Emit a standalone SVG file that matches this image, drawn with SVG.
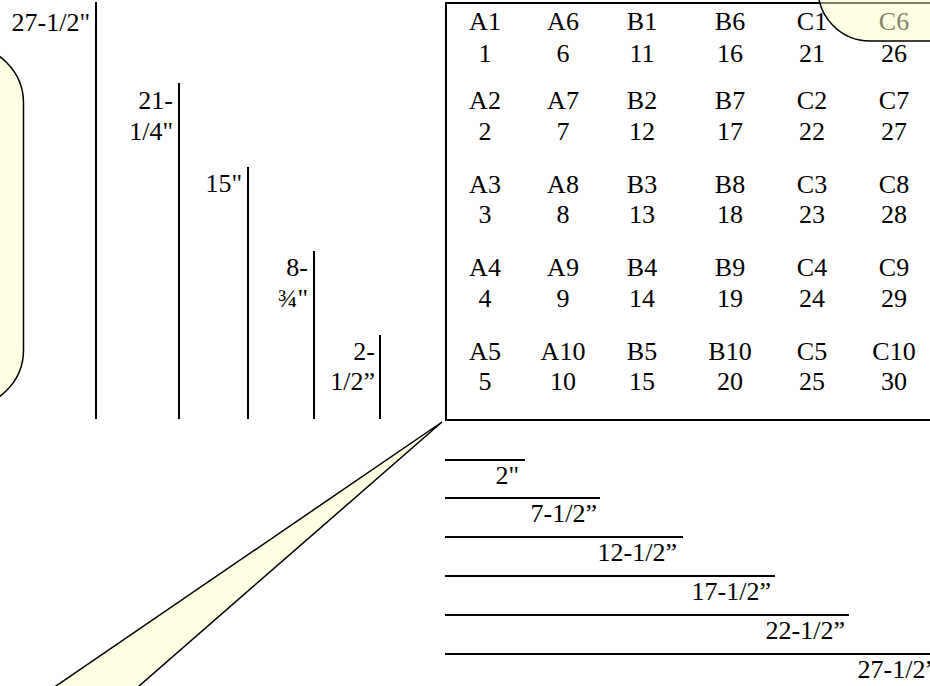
<svg xmlns="http://www.w3.org/2000/svg" width="930" height="686" viewBox="0 0 930 686">
<style>
text{font-family:"Liberation Serif","Times New Roman",serif;font-size:26px;fill:#000}
.g text{text-anchor:middle}
.e{text-anchor:end}
.v{stroke:#000;stroke-width:2;fill:none}
.shape{fill:#ffffe3;stroke:#000;stroke-width:1.5}
</style>
<rect width="930" height="686" fill="#fff"/>
<g id="left-panel"><rect class="shape" x="-120" y="46" width="143.5" height="361" rx="57" ry="57"/></g>
<g id="vertical-dims">
<line class="v" x1="96" y1="2" x2="96" y2="419"/>
<line class="v" x1="179" y1="83" x2="179" y2="419"/>
<line class="v" x1="248" y1="167" x2="248" y2="419"/>
<line class="v" x1="314" y1="251" x2="314" y2="419"/>
<line class="v" x1="380" y1="335" x2="380" y2="419"/>
<text class="e" x="90" y="31">27-1/2"</text>
<text class="e" x="173" y="109">21-</text>
<text class="e" x="173" y="140">1/4"</text>
<text class="e" x="242" y="192">15"</text>
<text class="e" x="308" y="276">8-</text>
<text class="e" x="308" y="307">¾"</text>
<text class="e" x="375" y="360">2-</text>
<text class="e" x="375" y="390">1/2”</text>
</g>
<g id="grid" class="g">
<rect x="446" y="3" width="500" height="417" fill="none" stroke="#000" stroke-width="2"/>
<text x="485" y="30">A1</text><text x="485" y="62">1</text>
<text x="485" y="109">A2</text><text x="485" y="140">2</text>
<text x="485" y="193">A3</text><text x="485" y="223">3</text>
<text x="485" y="276">A4</text><text x="485" y="307">4</text>
<text x="485" y="360">A5</text><text x="485" y="390">5</text>
<text x="563" y="30">A6</text><text x="563" y="62">6</text>
<text x="563" y="109">A7</text><text x="563" y="140">7</text>
<text x="563" y="193">A8</text><text x="563" y="223">8</text>
<text x="563" y="276">A9</text><text x="563" y="307">9</text>
<text x="563" y="360">A10</text><text x="563" y="390">10</text>
<text x="642" y="30">B1</text><text x="642" y="62">11</text>
<text x="642" y="109">B2</text><text x="642" y="140">12</text>
<text x="642" y="193">B3</text><text x="642" y="223">13</text>
<text x="642" y="276">B4</text><text x="642" y="307">14</text>
<text x="642" y="360">B5</text><text x="642" y="390">15</text>
<text x="730" y="30">B6</text><text x="730" y="62">16</text>
<text x="730" y="109">B7</text><text x="730" y="140">17</text>
<text x="730" y="193">B8</text><text x="730" y="223">18</text>
<text x="730" y="276">B9</text><text x="730" y="307">19</text>
<text x="730" y="360">B10</text><text x="730" y="390">20</text>
<text x="812" y="30">C1</text><text x="812" y="62">21</text>
<text x="812" y="109">C2</text><text x="812" y="140">22</text>
<text x="812" y="193">C3</text><text x="812" y="223">23</text>
<text x="812" y="276">C4</text><text x="812" y="307">24</text>
<text x="812" y="360">C5</text><text x="812" y="390">25</text>
<text x="894" y="30">C6</text><text x="894" y="62">26</text>
<text x="894" y="109">C7</text><text x="894" y="140">27</text>
<text x="894" y="193">C8</text><text x="894" y="223">28</text>
<text x="894" y="276">C9</text><text x="894" y="307">29</text>
<text x="894" y="360">C10</text><text x="894" y="390">30</text>
</g>
<g id="horizontal-dims">
<line class="v" x1="445" y1="460" x2="525" y2="460"/>
<line class="v" x1="445" y1="498" x2="600" y2="498"/>
<line class="v" x1="445" y1="537" x2="683" y2="537"/>
<line class="v" x1="445" y1="576" x2="775" y2="576"/>
<line class="v" x1="445" y1="615" x2="849" y2="615"/>
<line class="v" x1="445" y1="654" x2="930" y2="654"/>
<text class="e" x="519" y="484">2"</text>
<text class="e" x="597" y="522">7-1/2”</text>
<text class="e" x="677" y="561">12-1/2”</text>
<text class="e" x="771" y="600">17-1/2”</text>
<text class="e" x="845" y="639">22-1/2”</text>
<text class="e" x="937" y="678">27-1/2”</text>
</g>
<g id="callout-tail"><path class="shape" d="M35.5 700 L442 422 L123 700 Z"/></g>
<g id="top-callout"><rect x="818" y="-90" width="200" height="131" rx="52" ry="52" fill="#ffffc8" fill-opacity="0.5" stroke="#000" stroke-width="1.5"/></g>
</svg>
